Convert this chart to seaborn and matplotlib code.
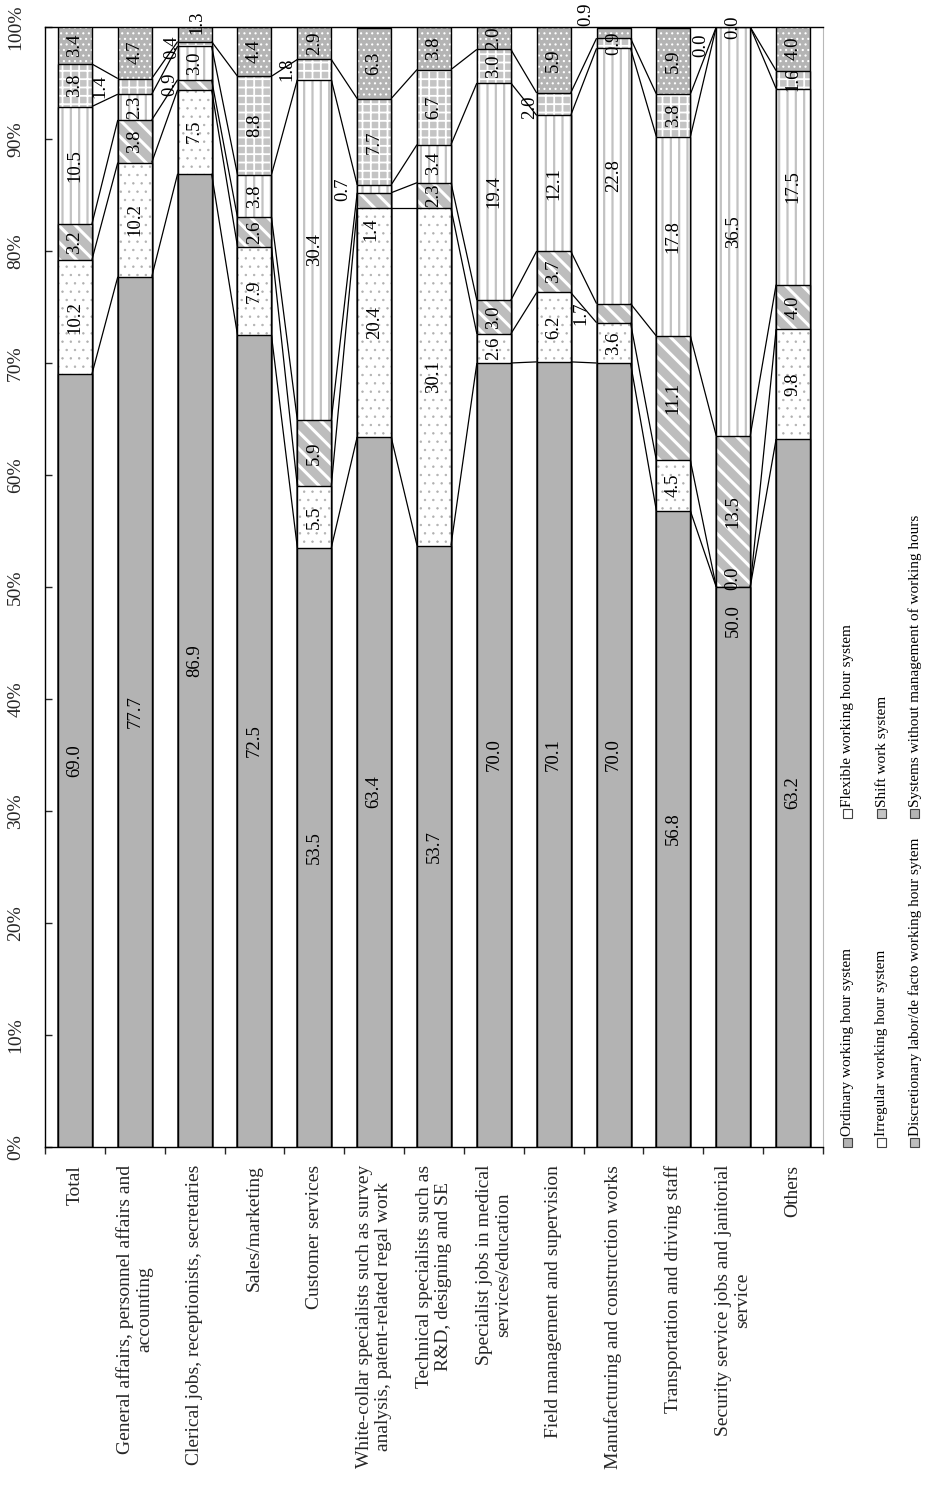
import numpy as np
import matplotlib
matplotlib.use("Agg")
import matplotlib.pyplot as plt
import seaborn as sns
from matplotlib.patches import Rectangle

# ---- data -------------------------------------------------------------
categories = [
    "Total",
    "General affairs, personnel affairs and\naccounting",
    "Clerical jobs, receptionists, secretaries",
    "Sales/marketing",
    "Customer services",
    "White-collar specialists such as survey\nanalysis, patent-related regal work",
    "Technical specialists such as\nR&D, designing and SE",
    "Specialist jobs in medical\nservices/education",
    "Field management and supervision",
    "Manufacturing and construction works",
    "Transportation and driving staff",
    "Security service jobs and janitorial\nservice",
    "Others",
]

ordinary = [69.0, 77.7, 86.9, 72.5, 53.5, 63.4, 53.7, 70.0, 70.1, 70.0, 56.8, 50.0, 63.2]
irregular = [10.2, 10.2, 7.5, 7.9, 5.5, 20.4, 30.1, 2.6, 6.2, 3.6, 4.5, 0.0, 9.8]
discretionary = [3.2, 3.8, 0.9, 2.6, 5.9, 1.4, 2.3, 3.0, 3.7, 1.7, 11.1, 13.5, 4.0]
flexible = [10.5, 2.3, 3.0, 3.8, 30.4, 0.7, 3.4, 19.4, 12.1, 22.8, 17.8, 36.5, 17.5]
shift_work = [3.8, 1.4, 0.4, 8.8, 1.8, 7.7, 6.7, 3.0, 2.0, 0.9, 3.8, 0.0, 1.6]
no_management = [3.4, 4.7, 1.3, 4.4, 2.9, 6.3, 3.8, 2.0, 5.9, 0.9, 5.9, 0.0, 4.0]

series_names = [
    "Ordinary working hour system",
    "Irregular working hour system",
    "Discretionary labor/de facto working hour sytem",
    "Flexible working hour system",
    "Shift work system",
    "Systems without management of working hours",
]

percent_ticks = [0, 10, 20, 30, 40, 50, 60, 70, 80, 90, 100]
percent_labels = ["0%", "10%", "20%", "30%", "40%", "50%", "60%", "70%", "80%", "90%", "100%"]

# ---- styles -----------------------------------------------------------
# (face colour, hatch, hatch colour, hatch line width)
styles = [
    ("#b3b3b3", "", "#b3b3b3", 1.0),
    ("#ffffff", "..", "#b0b0b0", 0.5),
    ("#bdbdbd", "\\\\", "#ffffff", 2.2),
    ("#ffffff", "||", "#c2c2c2", 1.6),
    ("#c4c4c4", "++", "#ffffff", 1.3),
    ("#b4b4b4", "...", "#ffffff", 0.8),
]

# label offsets (category, series) -> (dx in categories, dy in %)
label_nudge = {
    (1, 4): (-0.59, 0.0),
    (2, 2): (-0.42, 0.0),
    (2, 4): (-0.38, -0.3),
    (2, 5): (0.03, 1.1),
    (4, 4): (-0.45, 0.0),
    (5, 2): (-0.05, -2.6),
    (5, 3): (-0.53, 0.0),
    (8, 4): (-0.40, -0.3),
    (9, 2): (-0.55, 0.0),
    (9, 5): (-0.47, 1.65),
    (11, 0): (0.0, 22.0),
    (11, 1): (0.0, 0.8),
    (11, 4): (-0.55, -1.6),
}

sns.set_style("white")
plt.rcParams["font.family"] = ["Liberation Serif", "DejaVu Serif"]

W, H = 928, 1496
BAR_W = 0.567
fig = plt.figure(figsize=(W / 100, H / 100), dpi=100)
ax = fig.add_axes([45 / W, (H - 1147) / H, 778 / W, 1120 / H])

values = np.array([ordinary, irregular, discretionary, flexible, shift_work, no_management])
cum = values.cumsum(axis=0)
xpos = np.arange(len(categories))

# stacked bars: draw the cumulative totals from the top layer downwards
for k in reversed(range(len(series_names))):
    face, hatch, hcol, hlw = styles[k]
    with plt.rc_context({"hatch.linewidth": hlw}):
        n0 = len(ax.patches)
        sns.barplot(x=categories, y=cum[k], order=categories, color=face,
                    saturation=1, width=BAR_W, errorbar=None, ax=ax)
        for p in ax.patches[n0:]:
            p.set_facecolor(face)
            p.set_edgecolor(hcol)
            p.set_linewidth(0)
            if hatch:
                p.set_hatch(hatch)
            if hasattr(p, "set_hatch_linewidth"):
                p.set_hatch_linewidth(hlw)
        n1 = len(ax.patches)
        sns.barplot(x=categories, y=cum[k], order=categories, color="black",
                    saturation=1, width=BAR_W, errorbar=None, ax=ax)
        for p in ax.patches[n1:]:
            p.set_fill(False)
            p.set_edgecolor("black")
            p.set_linewidth(1.0)

# series lines between neighbouring bars
for k in range(len(series_names) - 1):
    for i in range(len(categories) - 1):
        ax.plot([i + BAR_W / 2, i + 1 - BAR_W / 2], [cum[k][i], cum[k][i + 1]],
                color="black", lw=0.9, solid_capstyle="butt")

# value labels
for k in range(len(series_names)):
    for i in range(len(categories)):
        v = values[k][i]
        dx, dy = label_nudge.get((i, k), (0.0, 0.0))
        ax.text(i + dx, cum[k][i] - v / 2 + dy, f"{v:.1f}", rotation=90,
                ha="center", va="center", fontsize=13.5, color="black")

# axes
ax.set_xlim(-0.5, len(categories) - 0.5)
ax.set_ylim(0, 100)
ax.set_xlabel("")
ax.set_ylabel("")
for side in ["left", "bottom", "top"]:
    ax.spines[side].set_visible(True)
    ax.spines[side].set_color("black")
    ax.spines[side].set_linewidth(1.0)
ax.spines["right"].set_visible(True)
ax.spines["right"].set_color("#b8b8b8")
ax.spines["right"].set_linewidth(0.8)

ax.set_yticks(percent_ticks)
ax.set_yticklabels(percent_labels, rotation=90, va="center", fontsize=14)
ax.tick_params(axis="y", direction="in", length=5, width=1, pad=15,
               left=True, right=False)

ax.set_xticks(xpos)
ax.set_xticklabels(categories, rotation=90, ha="center", va="top",
                   fontsize=14, linespacing=1.2)
ax.tick_params(axis="x", which="major", length=0, pad=13)
ax.set_xticks(np.arange(-0.5, len(categories), 1.0), minor=True)
ax.tick_params(axis="x", which="minor", direction="out", length=5, width=1,
               bottom=True, top=False)

# legend: two columns of three rotated entries
legend_rows_x = [848, 882, 915]
legend_cols_y = [1147, 818]
for k, name in enumerate(series_names):
    col, row = divmod(k, 3)
    x = legend_rows_x[row]
    y0 = legend_cols_y[col]
    face, hatch, hcol, hlw = styles[k]
    sq = Rectangle(((x - 4.5) / W, 1 - y0 / H), 9 / W, 9 / H,
                   transform=fig.transFigure, facecolor=face,
                   edgecolor="#444444", lw=0.8)
    fig.add_artist(sq)
    fig.text(x / W, 1 - (y0 - 11) / H, name, rotation=90, ha="center",
             va="bottom", fontsize=11, color="black")

fig.savefig("out.png", dpi=100)
